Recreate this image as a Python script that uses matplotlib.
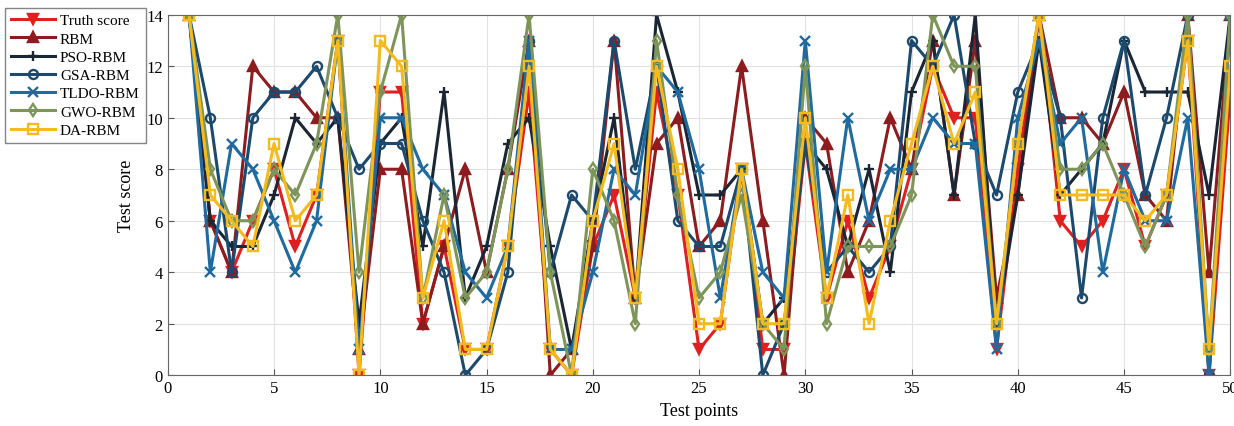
import matplotlib
matplotlib.use("Agg")
import matplotlib.pyplot as plt
import numpy as np

points = list(range(1, 51))
truth = [14,6,4,6,8,5,7,13,0,11, 11,2,5,1,1,5,11,1,0,5, 7,3,11,7,1,2,8,1,1,9, 3,6,3,5,8,12,10,10,1,8, 14,6,5,6,8,5,7,13,0,11]
rbm   = [14,6,4,12,11,11,10,10,1,8, 8,2,5,8,4,8,13,0,1,5, 13,3,9,10,5,6,12,6,0,10, 9,4,6,10,8,13,7,13,3,7, 14,10,10,9,11,7,6,14,4,14]
pso   = [14,6,5,5,7,10,9,10,2,9, 10,5,11,3,5,9,10,5,1,6, 10,3,14,11,7,7,8,2,3,9, 8,5,8,4,11,13,7,14,2,7, 13,7,8,9,13,11,11,11,7,14]
gsa   = [14,10,4,10,11,11,12,10,8,9, 9,6,4,0,1,4,13,4,7,6, 13,8,12,6,5,5,8,0,2,9, 4,5,4,5,13,12,14,9,7,11, 13,10,3,10,13,7,10,14,0,14]
tldo  = [14,4,9,8,6,4,6,13,1,10, 10,8,7,4,3,5,13,1,1,4, 8,7,12,11,8,3,8,4,3,13, 4,10,6,8,8,10,9,9,1,10, 13,9,10,4,8,6,6,10,0,14]
gwo   = [14,8,6,6,8,7,9,14,4,11, 14,3,7,3,4,8,14,4,0,8, 6,2,13,7,3,4,7,2,1,12, 2,5,5,5,7,14,12,12,2,9, 14,8,8,9,7,5,7,14,1,14]
da    = [14,7,6,5,9,6,7,13,0,13, 12,3,6,1,1,5,12,1,0,6, 9,3,12,8,2,2,8,2,2,10, 3,7,2,6,9,12,9,11,2,9, 14,7,7,7,7,6,7,13,1,12]

names = ["Truth score", "RBM", "PSO-RBM", "GSA-RBM", "TLDO-RBM", "GWO-RBM", "DA-RBM"]
series = [truth, rbm, pso, gsa, tldo, gwo, da]
colors = ["#E02020", "#8E1B1E", "#1B2635", "#1C4A6E", "#1F6A9E", "#7E955A", "#F5BA1E"]
markers = ["v", "^", "+", "o", "x", "d", "s"]

plt.rcParams['font.family'] = ['Liberation Serif', 'DejaVu Serif']
fig = plt.figure(figsize=(12.34, 4.27), dpi=100)
ax = fig.add_axes([0.136, 0.119, 0.861, 0.844])

for name, ys, c, m in zip(names, series, colors, markers):
    ax.plot(points, ys, color=c, marker=m, markersize=6.5, linewidth=2.2,
            markeredgewidth=1.7, markerfacecolor='none' if m in ("o", "s", "d") else c,
            label=name)

ax.set_xlim(0, 50)
ax.set_ylim(0, 14)
ax.set_xticks(np.arange(0, 51, 5))
ax.set_yticks(np.arange(0, 15, 2))
ax.grid(True, color="#E2E2E2", linewidth=0.8)
ax.set_axisbelow(True)
ax.tick_params(direction='in', labelsize=12, length=4, color="#555555")
for s in ax.spines.values():
    s.set_color("#666666")
ax.set_xlabel("Test points", fontsize=13, labelpad=4)
ax.set_ylabel("Test score", fontsize=13, labelpad=8)

leg = fig.legend(loc='upper left', bbox_to_anchor=(0.004, 0.98), fontsize=11,
                 frameon=True, fancybox=False, edgecolor="#666666",
                 handlelength=2.9, handletextpad=0.3, labelspacing=0.3,
                 borderpad=0.4, borderaxespad=0)
leg.get_frame().set_linewidth(1.0)

fig.savefig("out.png", dpi=100)
